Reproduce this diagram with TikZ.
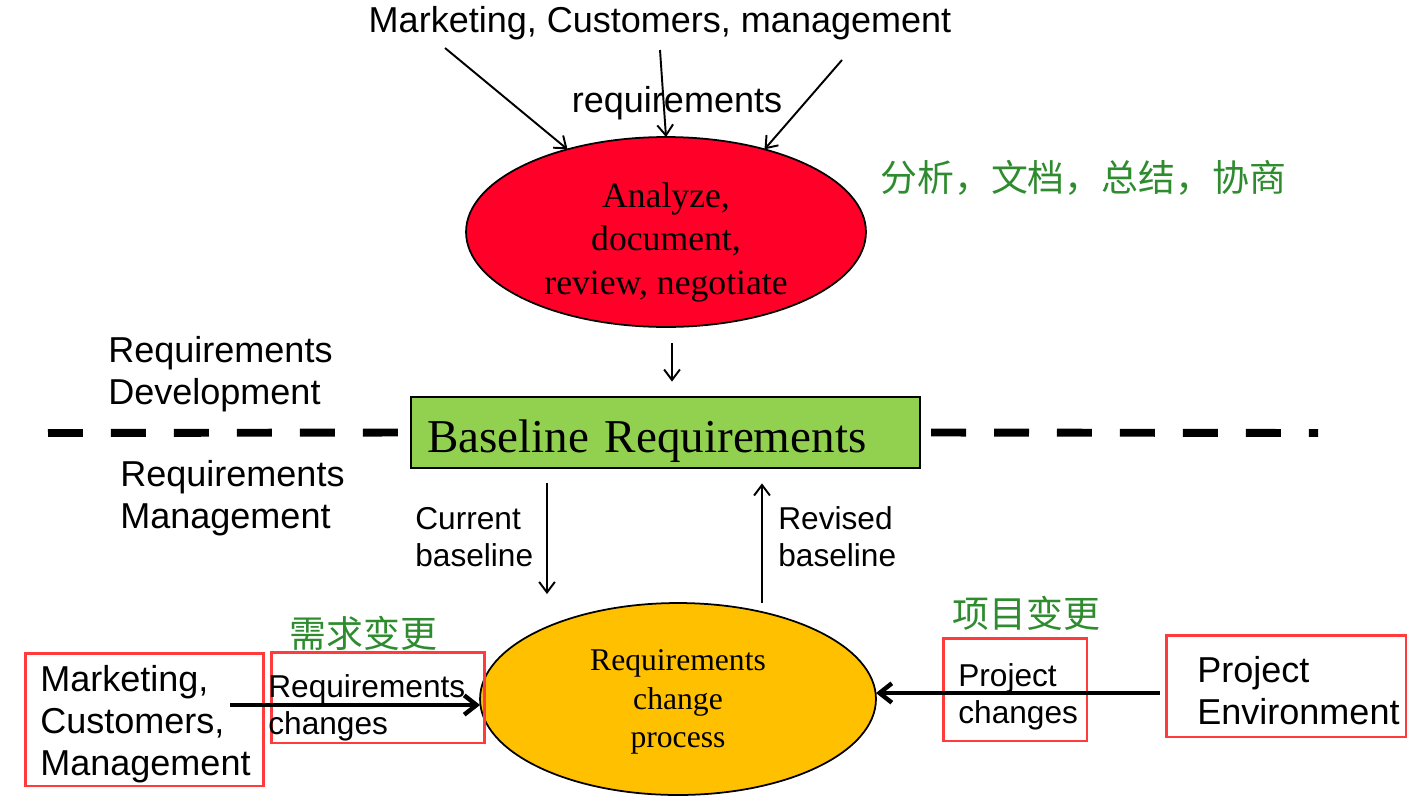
\documentclass[tikz,border=0pt]{standalone}
\usepackage{fontspec}
\setmainfont{Liberation Serif}
\setsansfont{Liberation Sans}
\newfontfamily\cjkfont{Noto Sans CJK SC}
\usetikzlibrary{arrows.meta,shapes.geometric}
\definecolor{redfill}{RGB}{255,0,40}
\definecolor{basegreen}{RGB}{146,208,80}
\definecolor{orangefill}{RGB}{255,192,0}
\definecolor{boxred}{RGB}{255,59,59}
\definecolor{cngreen}{RGB}{46,139,46}
\begin{document}
\begin{tikzpicture}[x=0.02cm, y=-0.02cm,
    lbl/.style={font=\sffamily\fontsize{20.5}{23.9}\selectfont, inner sep=0pt, align=left},
    lblsm/.style={font=\sffamily\fontsize{18}{21}\selectfont, inner sep=0pt, align=left},
    cnlbl/.style={font=\cjkfont\fontsize{21}{25}\selectfont, text=cngreen, inner sep=0pt, anchor=west},
    procnode/.style={ellipse, draw, line width=1pt, inner sep=0pt, outer sep=0pt, align=center},
    redbox/.style={rectangle, draw=boxred, line width=1.7pt, inner sep=0pt},
    arr/.style={-{Straight Barb[length=6pt,width=9pt]}, line width=1.1pt},
    thickarr/.style={-{Straight Barb[length=7pt,width=11pt]}, line width=2.5pt},
    dashline/.style={line width=4.5pt, dash pattern=on 0.7cm off 0.56cm} ]
    \useasboundingbox (0,0) rectangle (1408,801);

    % --- Requirements development ---
    \node[lbl] (src) at (660, 23) {Marketing, Customers, management};
    \node[lbl] (req) at (677, 103) {requirements};
    \node[procnode, fill=redfill, minimum width=8cm, minimum height=3.8cm, inner ysep=-5pt,
          font=\rmfamily\fontsize{20.3}{24.5}\selectfont] (adrn) at (666, 232)
          {\rule{0pt}{26pt}Analyze,\\document,\\review, negotiate};
    \node[cnlbl] (cnadrn) at (880, 178) {分析，文档，总结，协商};

    \coordinate (srcl) at (445, 48);
    \coordinate (srcm) at (660, 50);
    \coordinate (srcr) at (842, 60);
    \draw[arr] (srcl) -- (adrn.140);
    \draw[arr] (srcm) -- (adrn.north);
    \draw[arr] (srcr) -- (adrn.40);

    \node[lbl, anchor=west] (dev) at (108, 374) {Requirements\\Development};

    % --- Baseline ---
    \node[rectangle, draw, line width=1.2pt, fill=basegreen, inner xsep=0.32cm,
          text width=9.54cm, minimum height=1.34cm, align=left,
          font=\rmfamily\fontsize{26.8}{30}\selectfont] (base) at (665.5, 432.5)
          {\rule{0pt}{28.4pt}Baseline Requirements};

    \coordinate (adrnx) at (672, 0);
    \draw[arr, shorten <=0.32cm, shorten >=0.28cm] (adrn.south -| adrnx) -- (base.north -| adrnx);

    \coordinate (dl) at (48, 433);
    \coordinate (dr) at (1318, 433);
    \draw[dashline] (dl) -- (base.west);
    \draw[dashline] ([xshift=0.2cm]base.east) -- (dr);

    % --- Requirements management ---
    \node[lbl, anchor=west] (mgmt) at (120, 498) {Requirements\\Management};
    \node[procnode, fill=orangefill, minimum width=7.92cm, minimum height=3.84cm,
          font=\rmfamily\fontsize{18}{21.9}\selectfont] (rcp) at (678, 699)
          {\rule{0pt}{15.7pt}Requirements\\change\\process};

    \node[lblsm, anchor=west] (cur) at (415, 537) {Current\\baseline};
    \node[lblsm, anchor=west] (rev) at (778, 537) {Revised\\baseline};
    \coordinate (curx) at (547, 0);
    \coordinate (revx) at (762, 0);
    \draw[arr, shorten <=0.28cm, shorten >=0.18cm] (base.south -| curx) -- (rcp.north -| curx);
    \draw[arr, shorten >=0.28cm] (rcp.north -| revx) -- (base.south -| revx);

    % --- Change sources ---
    \node[redbox, minimum width=4.78cm, minimum height=2.66cm] (mcm) at (144.5, 719.5) {};
    \node[lbl, anchor=west] (mcmtxt) at (40, 724) {Marketing,\\Customers,\\Management};
    \node[redbox, minimum width=4.28cm, minimum height=1.82cm] (rc) at (378, 697.5) {};
    \node[lblsm, anchor=west] (rctxt) at (268, 708) {Requirements\\changes};
    \node[cnlbl] (cnrc) at (289, 633) {需求变更};

    \node[redbox, minimum width=2.88cm, minimum height=2.06cm] (pc) at (1015, 689.5) {};
    \node[lblsm, anchor=west] (pctxt) at (958, 697) {Project\\changes};
    \node[cnlbl] (cnpc) at (952, 613) {项目变更};
    \node[redbox, minimum width=4.8cm, minimum height=2.04cm] (penv) at (1286, 686) {};
    \node[lbl, anchor=west] (penvtxt) at (1197, 691) {Project\\Environment};

    \coordinate (mcmtail) at (230, 705);
    \coordinate (penvtail) at (1160, 693);
    \draw[thickarr] (mcmtail) -- (mcmtail -| rcp.west);
    \draw[thickarr] (penvtail) -- (penvtail -| rcp.east);
\end{tikzpicture}
\end{document}
